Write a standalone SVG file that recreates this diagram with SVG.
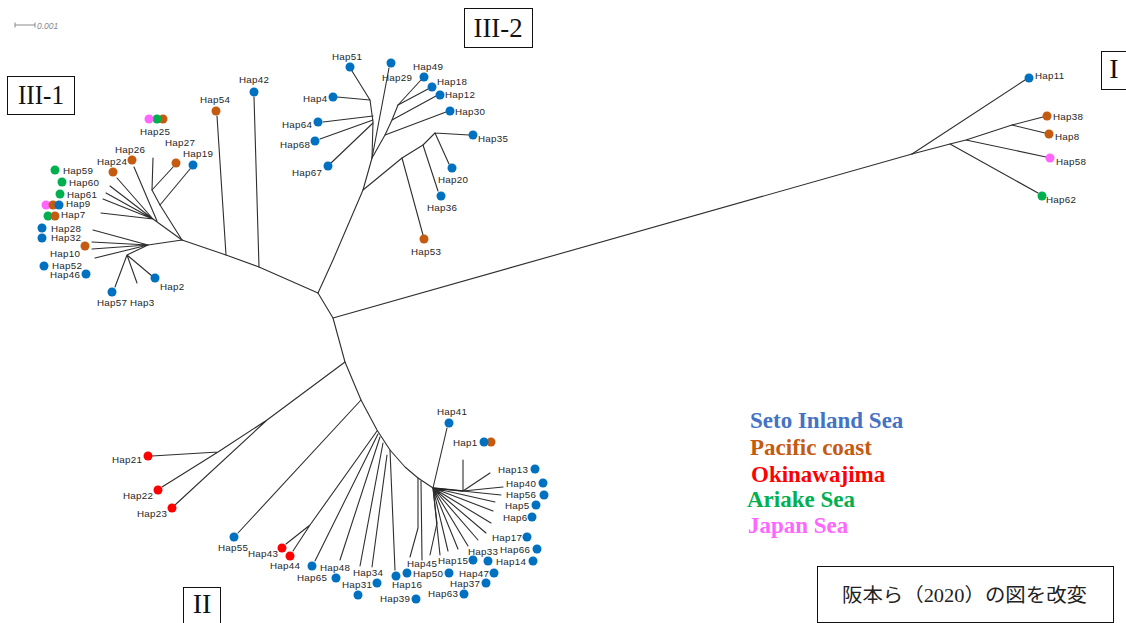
<svg xmlns="http://www.w3.org/2000/svg" width="1126" height="623" viewBox="0 0 1126 623">
<style>
  .e { stroke:#2e2e2e; stroke-width:1.1; fill:none; stroke-linecap:round; stroke-linejoin:round }
  .hub { stroke:#222; stroke-width:1.6; fill:none }
  .lb { font-family:"Liberation Sans", Arial, sans-serif; font-size:9.8px; fill:#262626; letter-spacing:0.25px }
  .b { fill:#0070C0 } .o { fill:#C55A11 } .r { fill:#FF0000 } .g { fill:#00B050 } .p { fill:#FF66FF }
  .box { fill:#fff; stroke:#111; stroke-width:1 }
  .roman { font-family:"Liberation Serif", "Times New Roman", serif; font-size:28px; fill:#111; text-anchor:middle }
  .leg { font-family:"Liberation Serif", "Times New Roman", serif; font-size:23px; font-weight:bold }
</style>
<rect width="1126" height="623" fill="#fff"/>

<!-- scale bar -->
<g id="scale">
  <path d="M15,25 H35 M15,22.5 V27.5 M35,22.5 V27.5" stroke="#888" stroke-width="1" fill="none"/>
  <text x="37" y="28.5" font-family="Liberation Sans, Arial, sans-serif" font-size="8.5" font-style="italic" fill="#888">0.001</text>
</g>

<!-- clade boxes -->
<g id="clade-III-1"><rect class="box" x="7.5" y="76.5" width="67" height="38"/><text class="roman" x="41" y="104" textLength="46" lengthAdjust="spacingAndGlyphs">III-1</text></g>
<g id="clade-III-2"><rect class="box" x="464.5" y="8.5" width="68" height="39"/><text class="roman" x="498" y="37" textLength="49" lengthAdjust="spacingAndGlyphs">III-2</text></g>
<g id="clade-I"><rect class="box" x="1101.5" y="51.5" width="30" height="38"/><text class="roman" x="1114" y="78" font-size="25">I</text></g>
<g id="clade-II"><rect class="box" x="183.5" y="587.5" width="37" height="40"/><text class="roman" x="202" y="613" font-size="27">II</text></g>

<!-- branches -->
<g id="edges" class="e">
  <!-- clade III-1 -->
  <path d="M318,293 L259,267 L226,255 L182,240"/>
  <path d="M226,255 L217,116"/>
  <path d="M259,267 L254,97"/>
  <path d="M182,240 L160,205 L152,190 L153,158"/>
  <path d="M152,190 L174,166"/>
  <path d="M160,205 L190,169"/>
  <path d="M182,240 L153,219"/>
  <path d="M153,219 L110,186 M153,219 L106,193 M153,219 L103,199 M153,219 L101,213 M153,219 L117,178"/>
  <path d="M157,221 L134,167"/>
  <path d="M182,240 L148,245"/>
  <path d="M148,245 L93,230 M148,245 L92,242 M148,245 L92,249 M148,245 L95,258"/>
  <path d="M148,245 L127,255 L115,287 M127,255 L137,283 M127,255 L152,276"/>
  <!-- clade III-2 -->
  <path d="M318,293 L333,260 L363,190 L372,158 L373,122 L370,100"/>
  <path d="M370,100 L352,71 M370,100 L337,97"/>
  <path d="M373,116 L323,122 M373,120 L320,139 M373,123 L331,163"/>
  <path d="M372,158 L389,68"/>
  <path d="M372,158 L385,135 L392,120 L398,105 L421,80"/>
  <path d="M385,135 L446,112 M392,120 L436,96 M398,105 L428,89"/>
  <path d="M363,190 L402,158 L423,145 L435,133"/>
  <path d="M402,158 L423,235 M423,145 L438,191"/>
  <path d="M435,133 L469,135 M435,133 L449,164"/>
  <!-- clade I -->
  <path d="M333,318 L912,154"/>
  <path d="M912,154 L1025,80"/>
  <path d="M912,154 L950,144 L966,140 L1012,125 L1043,117"/>
  <path d="M1012,125 L1045,133 M966,140 L1046,157 M950,144 L1038,193"/>
  <!-- clade II -->
  <path d="M318,293 L333,318 L345,362 L361,400 L377,430 L390,450 L405,467 L418,478 L433,488"/>
  <path d="M345,362 L267,420 L218,452 L152,456 M218,452 L162,487 M267,420 L175,505"/>
  <path d="M361,400 L238,533"/>
  <path d="M377,431 L310,525 L286,544 M310,525 L293,551"/>
  <path d="M378,434 L315,561 M380,437 L340,560 M383,443 L360,566 M387,455 L372,567 M390,450 L395,570"/>
  <path d="M418,478 L418,528 L410,557 M421,481 L422,560"/>
  <path d="M433,488 L447,428"/>
  <path d="M433,488 L437,523 L430,555"/>
  <path d="M433,488 L440,555 M433,488 L448,551 M433,488 L458,549 M433,488 L468,546 M433,488 L478,540 M433,488 L486,533 M433,488 L491,523 M433,488 L493,511 M433,488 L495,502 M433,488 L501,495"/>
  <path d="M463,491 L463,460 M463,491 L490,473 M463,491 L503,487"/>
</g>
<path class="hub" d="M433,488 L463,491"/>

<!-- clade III-1 haplotypes -->
<g id="hap25"><circle class="o" cx="163" cy="119" r="4.5"/><circle class="g" cx="157" cy="119" r="4.5"/><circle class="p" cx="149" cy="119" r="4.5"/><text class="lb" x="140" y="134.5">Hap25</text></g>
<g id="hap26"><circle class="o" cx="132" cy="160" r="4.5"/><text class="lb" x="115" y="152.5">Hap26</text></g>
<g id="hap27"><circle class="o" cx="176" cy="163" r="4.5"/><text class="lb" x="165" y="145.5">Hap27</text></g>
<g id="hap19"><circle class="b" cx="193" cy="165" r="4.5"/><text class="lb" x="183" y="156.5">Hap19</text></g>
<g id="hap24"><circle class="o" cx="113" cy="172" r="4.5"/><text class="lb" x="97" y="164.5">Hap24</text></g>
<g id="hap54"><circle class="o" cx="216" cy="111" r="4.5"/><text class="lb" x="200" y="102.5">Hap54</text></g>
<g id="hap42"><circle class="b" cx="254" cy="92" r="4.5"/><text class="lb" x="239" y="82.5">Hap42</text></g>
<g id="hap59"><circle class="g" cx="55" cy="170" r="4.5"/><text class="lb" x="63" y="173.5">Hap59</text></g>
<g id="hap60"><circle class="g" cx="62" cy="182" r="4.5"/><text class="lb" x="69" y="185.5">Hap60</text></g>
<g id="hap61"><circle class="g" cx="60" cy="194" r="4.5"/><text class="lb" x="67" y="197.5">Hap61</text></g>
<g id="hap9"><circle class="p" cx="46" cy="205" r="4.5"/><circle class="o" cx="53" cy="205" r="4.5"/><circle class="b" cx="59" cy="205" r="4.5"/><text class="lb" x="66" y="206.5">Hap9</text></g>
<g id="hap7"><circle class="g" cx="48" cy="216" r="4.5"/><circle class="o" cx="55" cy="216" r="4.5"/><text class="lb" x="61" y="217.5">Hap7</text></g>
<g id="hap28"><circle class="b" cx="42" cy="228" r="4.5"/><text class="lb" x="51" y="231.5">Hap28</text></g>
<g id="hap32"><circle class="b" cx="42" cy="238" r="4.5"/><text class="lb" x="51" y="240.5">Hap32</text></g>
<g id="hap10"><circle class="o" cx="85" cy="246" r="4.5"/><text class="lb" x="50" y="256.5">Hap10</text></g>
<g id="hap52"><circle class="b" cx="44" cy="266" r="4.5"/><text class="lb" x="52" y="268.5">Hap52</text></g>
<g id="hap46"><circle class="b" cx="86" cy="274" r="4.5"/><text class="lb" x="50" y="277.5">Hap46</text></g>
<g id="hap2"><circle class="b" cx="155" cy="278" r="4.5"/><text class="lb" x="160" y="289.5">Hap2</text></g>
<g id="hap57"><circle class="b" cx="112" cy="292" r="4.5"/><text class="lb" x="97" y="305.5">Hap57</text></g>
<g id="hap3"><text class="lb" x="130" y="305.5">Hap3</text></g>

<!-- clade III-2 haplotypes -->
<g id="hap51"><circle class="b" cx="350" cy="67" r="4.5"/><text class="lb" x="332" y="59.5">Hap51</text></g>
<g id="hap4"><circle class="b" cx="333" cy="97" r="4.5"/><text class="lb" x="303" y="101.5">Hap4</text></g>
<g id="hap29"><circle class="b" cx="391" cy="63" r="4.5"/><text class="lb" x="382" y="80.5">Hap29</text></g>
<g id="hap49"><circle class="b" cx="424" cy="77" r="4.5"/><text class="lb" x="413" y="69.5">Hap49</text></g>
<g id="hap18"><circle class="b" cx="432" cy="87" r="4.5"/><text class="lb" x="437" y="84.5">Hap18</text></g>
<g id="hap12"><circle class="b" cx="440" cy="95" r="4.5"/><text class="lb" x="445" y="97.5">Hap12</text></g>
<g id="hap30"><circle class="b" cx="450" cy="111" r="4.5"/><text class="lb" x="455" y="114.5">Hap30</text></g>
<g id="hap35"><circle class="b" cx="473" cy="135" r="4.5"/><text class="lb" x="478" y="141.5">Hap35</text></g>
<g id="hap20"><circle class="b" cx="452" cy="168" r="4.5"/><text class="lb" x="438" y="182.5">Hap20</text></g>
<g id="hap36"><circle class="b" cx="441" cy="196" r="4.5"/><text class="lb" x="427" y="210.5">Hap36</text></g>
<g id="hap53"><circle class="o" cx="424" cy="239" r="4.5"/><text class="lb" x="411" y="254.5">Hap53</text></g>
<g id="hap64"><circle class="b" cx="318" cy="122" r="4.5"/><text class="lb" x="282" y="127.5">Hap64</text></g>
<g id="hap68"><circle class="b" cx="315" cy="141" r="4.5"/><text class="lb" x="280" y="147.5">Hap68</text></g>
<g id="hap67"><circle class="b" cx="328" cy="166" r="4.5"/><text class="lb" x="292" y="175.5">Hap67</text></g>

<!-- clade I haplotypes -->
<g id="hap11"><circle class="b" cx="1029" cy="78" r="4.5"/><text class="lb" x="1035" y="78.5">Hap11</text></g>
<g id="hap38"><circle class="o" cx="1047" cy="116" r="4.5"/><text class="lb" x="1053" y="119.5">Hap38</text></g>
<g id="hap8"><circle class="o" cx="1049" cy="134" r="4.5"/><text class="lb" x="1055" y="139.5">Hap8</text></g>
<g id="hap58"><circle class="p" cx="1050" cy="158" r="4.5"/><text class="lb" x="1056" y="164.5">Hap58</text></g>
<g id="hap62"><circle class="g" cx="1042" cy="196" r="4.5"/><text class="lb" x="1046" y="202.5">Hap62</text></g>

<!-- clade II haplotypes -->
<g id="hap21"><circle class="r" cx="148" cy="456" r="4.5"/><text class="lb" x="112" y="462.5">Hap21</text></g>
<g id="hap22"><circle class="r" cx="158" cy="490" r="4.5"/><text class="lb" x="123" y="498.5">Hap22</text></g>
<g id="hap23"><circle class="r" cx="172" cy="508" r="4.5"/><text class="lb" x="137" y="516.5">Hap23</text></g>
<g id="hap55"><circle class="b" cx="234" cy="537" r="4.5"/><text class="lb" x="218" y="550.5">Hap55</text></g>
<g id="hap43"><circle class="r" cx="282" cy="548" r="4.5"/><text class="lb" x="248" y="556.5">Hap43</text></g>
<g id="hap44"><circle class="r" cx="290" cy="556" r="4.5"/><text class="lb" x="270" y="568.5">Hap44</text></g>
<g id="hap65"><circle class="b" cx="312" cy="566" r="4.5"/><text class="lb" x="297" y="580.5">Hap65</text></g>
<g id="hap48"><circle class="b" cx="336" cy="578" r="4.5"/><text class="lb" x="320" y="570.5">Hap48</text></g>
<g id="hap34"><circle class="b" cx="377" cy="583" r="4.5"/><text class="lb" x="353" y="575.5">Hap34</text></g>
<g id="hap31"><circle class="b" cx="358" cy="595" r="4.5"/><text class="lb" x="342" y="587.5">Hap31</text></g>
<g id="hap16"><circle class="b" cx="396" cy="576" r="4.5"/><text class="lb" x="392" y="587.5">Hap16</text></g>
<g id="hap39"><circle class="b" cx="416" cy="599" r="4.5"/><text class="lb" x="380" y="601.5">Hap39</text></g>
<g id="hap45"><circle class="b" cx="407" cy="573" r="4.5"/><text class="lb" x="407" y="566.5">Hap45</text></g>
<g id="hap50"><circle class="b" cx="449" cy="573" r="4.5"/><text class="lb" x="413" y="576.5">Hap50</text></g>
<g id="hap15"><circle class="b" cx="473" cy="560" r="4.5"/><text class="lb" x="438" y="563.5">Hap15</text></g>
<g id="hap33"><circle class="b" cx="488" cy="561" r="4.5"/><text class="lb" x="468" y="554.5">Hap33</text></g>
<g id="hap47"><circle class="b" cx="494" cy="573" r="4.5"/><text class="lb" x="459" y="576.5">Hap47</text></g>
<g id="hap37"><circle class="b" cx="486" cy="583" r="4.5"/><text class="lb" x="450" y="586.5">Hap37</text></g>
<g id="hap63"><circle class="b" cx="464" cy="594" r="4.5"/><text class="lb" x="428" y="596.5">Hap63</text></g>
<g id="hap14"><circle class="b" cx="533" cy="561" r="4.5"/><text class="lb" x="496" y="564.5">Hap14</text></g>
<g id="hap66"><circle class="b" cx="537" cy="549" r="4.5"/><text class="lb" x="500" y="552.5">Hap66</text></g>
<g id="hap17"><circle class="b" cx="527" cy="537" r="4.5"/><text class="lb" x="492" y="540.5">Hap17</text></g>
<g id="hap6"><circle class="b" cx="532" cy="517" r="4.5"/><text class="lb" x="503" y="520.5">Hap6</text></g>
<g id="hap5"><circle class="b" cx="536" cy="505" r="4.5"/><text class="lb" x="505" y="508.5">Hap5</text></g>
<g id="hap56"><circle class="b" cx="544" cy="495" r="4.5"/><text class="lb" x="506" y="497.5">Hap56</text></g>
<g id="hap40"><circle class="b" cx="543" cy="483" r="4.5"/><text class="lb" x="506" y="486.5">Hap40</text></g>
<g id="hap13"><circle class="b" cx="535" cy="469" r="4.5"/><text class="lb" x="498" y="472.5">Hap13</text></g>
<g id="hap1"><circle class="o" cx="491" cy="442" r="4.5"/><circle class="b" cx="484" cy="442" r="4.5"/><text class="lb" x="453" y="445.5">Hap1</text></g>
<g id="hap41"><circle class="b" cx="449" cy="423" r="4.5"/><text class="lb" x="437" y="414.5">Hap41</text></g>

<!-- legend -->
<g id="legend" class="leg">
  <text x="750" y="428" fill="#4472C4">Seto Inland Sea</text>
  <text x="750" y="455" fill="#C55A11">Pacific coast</text>
  <text x="751" y="482" fill="#FF0000">Okinawajima</text>
  <text x="747" y="507" fill="#00B050">Ariake Sea</text>
  <text x="748" y="533" fill="#FF66FF">Japan Sea</text>
</g>

<!-- source note -->
<g id="source">
  <rect class="box" x="817.5" y="566.5" width="296" height="56"/>
  <text x="842" y="602" font-family="Liberation Serif, Noto Sans CJK JP, serif" font-size="19" fill="#222" textLength="245" lengthAdjust="spacingAndGlyphs">阪本ら（2020）の図を改変</text>
</g>
</svg>
